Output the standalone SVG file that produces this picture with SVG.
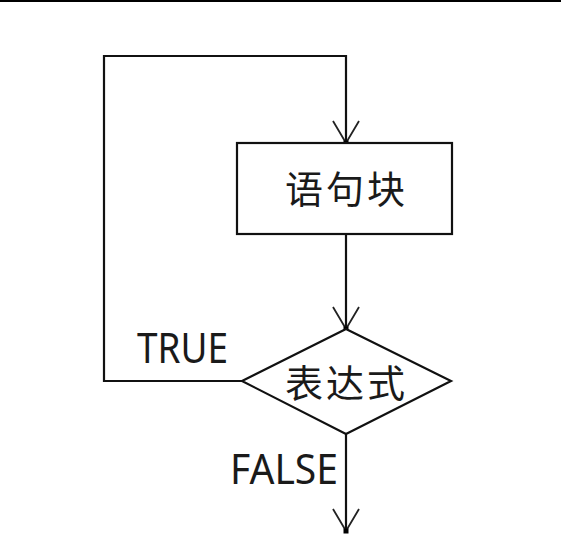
<svg xmlns="http://www.w3.org/2000/svg" width="561" height="540" viewBox="0 0 561 540">
<style>
.ln{fill:none;stroke:#111;stroke-width:2.2;}
.shape{fill:#fff;stroke:#111;stroke-width:2.2;}
.cjk{font-family:"Noto Sans CJK SC","Noto Sans",sans-serif;font-size:38px;fill:#1a1a1a;text-anchor:middle;}
.lbl{font-family:"Noto Sans","DejaVu Sans",sans-serif;font-size:41px;fill:#1a1a1a;}
</style>
<defs>
<marker id="arr" markerUnits="userSpaceOnUse" viewBox="-26 -16 30 32" refX="0" refY="0" markerWidth="30" markerHeight="32" orient="auto" overflow="visible">
<path d="M-22,-13 L0,0 L-22,13" fill="none" stroke="#222" stroke-width="1.8"/>
<rect x="-2.5" y="-2.5" width="5" height="5" fill="#000"/>
</marker>
</defs>
<rect x="0" y="0" width="561" height="2" fill="#000"/>
<g id="connectors">
<polyline class="ln" points="242,381 104,381 104,56 346,56 346,143" marker-end="url(#arr)"/>
<line class="ln" x1="346" y1="234" x2="346" y2="329" marker-end="url(#arr)"/>
<line class="ln" x1="346" y1="434" x2="346" y2="531" marker-end="url(#arr)"/>
</g>
<g id="block">
<rect class="shape" x="237" y="143" width="215" height="91"/>
<text class="cjk" x="345" y="203" textLength="120" lengthAdjust="spacing">语句块</text>
</g>
<g id="cond">
<polygon class="shape" points="346,329 451,381 346,434 242,381"/>
<text class="cjk" x="345" y="397" textLength="120" lengthAdjust="spacing">表达式</text>
</g>
<g id="labels">
<text class="lbl" x="137" y="363" textLength="91" lengthAdjust="spacingAndGlyphs">TRUE</text>
<text class="lbl" x="230" y="484" textLength="108" lengthAdjust="spacingAndGlyphs">FALSE</text>
</g>
</svg>
